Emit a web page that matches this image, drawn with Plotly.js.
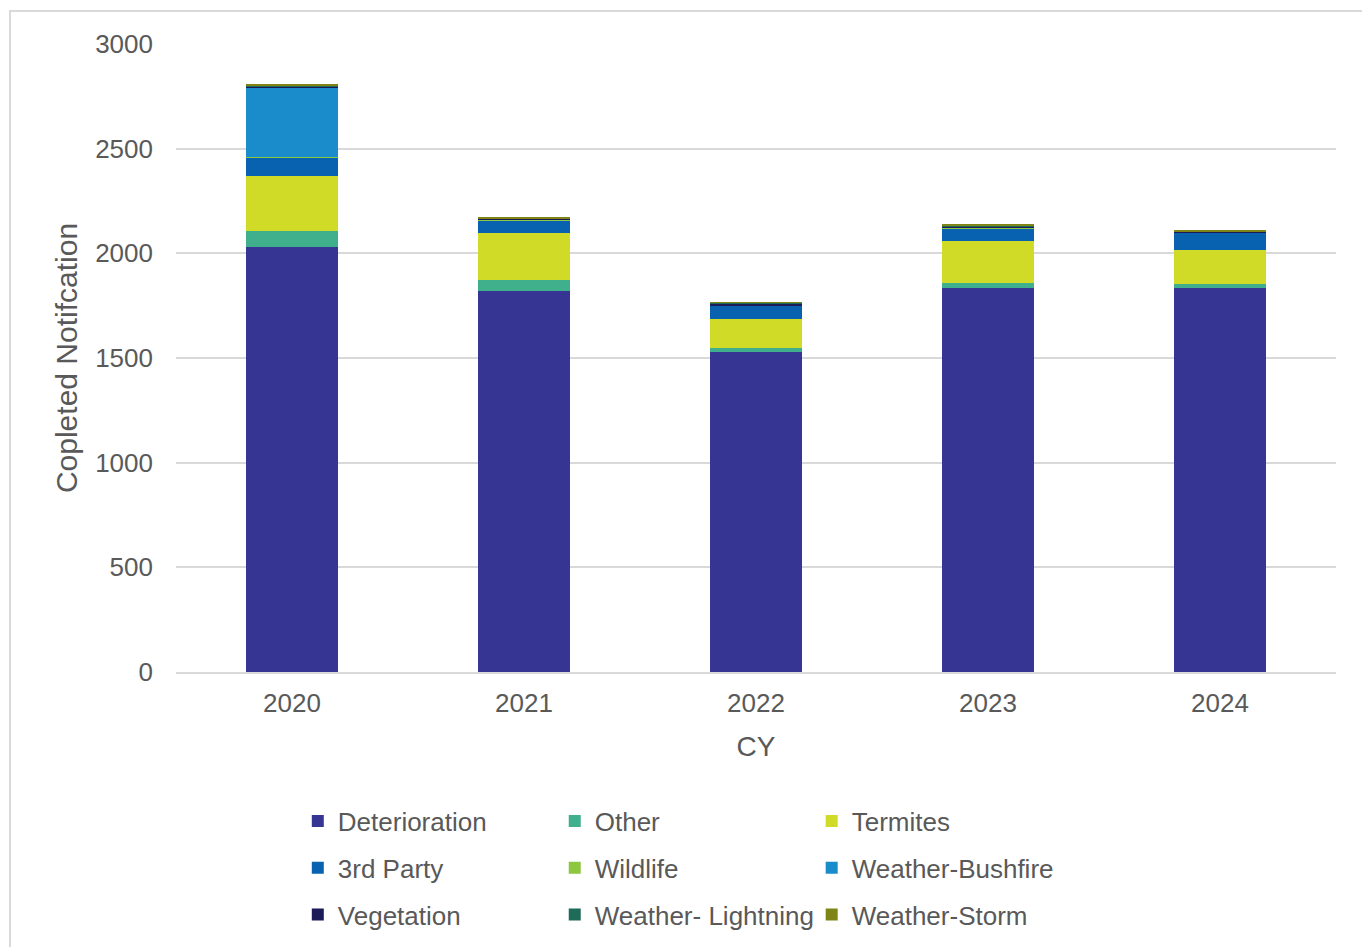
<!DOCTYPE html>
<html>
<head>
<meta charset="utf-8">
<script src="https://cdn.plot.ly/plotly-3.0.1.min.js"></script>
<style>
  html, body { margin: 0; padding: 0; background: #ffffff; }
  #wrap { position: relative; width: 1362px; height: 947px; overflow: hidden; }
  #chart { position: absolute; left: 0; top: 0; width: 1362px; height: 947px; }
  #frame { position: absolute; left: 9px; top: 10px; width: 1400px; height: 1000px;
           border-left: 2px solid #d9d9d9; border-top: 2px solid #d9d9d9; pointer-events: none; }
</style>
</head>
<body>
<div id="wrap">
  <div id="chart"></div>
  <div id="frame"></div>
</div>
<script>
const years = ['2020', '2021', '2022', '2023', '2024'];

const deterioration = [2030, 1820, 1530, 1833, 1833];
const other         = [77, 53, 19, 27, 20];
const termites      = [262, 224, 136, 197, 163];
const thirdParty    = [88, 62, 65, 61, 83];
const wildlife      = [2, 3, 0, 4, 1];
const bushfire      = [334, 0, 0, 0, 0];
const vegetation    = [2, 2, 11, 5, 2];
const lightning     = [2, 1, 4, 4, 1];
const storm         = [10, 8, 1, 8, 4];

const seriesNames  = ['Deterioration', 'Other', 'Termites', '3rd Party', 'Wildlife',
                      'Weather-Bushfire', 'Vegetation', 'Weather- Lightning', 'Weather-Storm'];
const seriesValues = [deterioration, other, termites, thirdParty, wildlife,
                      bushfire, vegetation, lightning, storm];
const seriesColors = ['#373593', '#3faf8c', '#cfdb26', '#0862b0', '#8dc63f',
                      '#1a8ccb', '#1b1b57', '#1f6b57', '#7f8417'];
const legendIds    = ['legend', 'legend2', 'legend3'];

const traces = seriesNames.map((name, i) => ({
  type: 'bar',
  name: name,
  x: years,
  y: seriesValues[i],
  marker: { color: seriesColors[i], line: { width: 0 } },
  legend: legendIds[i % 3],
  legendgroup: 'g' + i,
  hoverinfo: 'x+y+name'
}));

const FONT = 'Liberation Sans, Arial, sans-serif';
const GREY = '#595959';

function legendAt(x) {
  return {
    x: x, y: -0.2, xanchor: 'left', yanchor: 'top',
    orientation: 'v',
    traceorder: 'grouped',
    tracegroupgap: 10,
    font: { family: FONT, size: 26, color: GREY },
    bgcolor: 'rgba(0,0,0,0)',
    itemwidth: 30
  };
}

const layout = {
  width: 1362, height: 947,
  margin: { l: 176, r: 26, t: 44, b: 275, autoexpand: false },
  paper_bgcolor: '#ffffff',
  plot_bgcolor: '#ffffff',
  barmode: 'stack',
  bargap: 0.6,
  font: { family: FONT, size: 26, color: GREY },
  xaxis: {
    type: 'category',
    automargin: false,
    showgrid: false,
    showline: true, linecolor: '#d9d9d9', linewidth: 2,
    ticks: '',
    tickfont: { family: FONT, size: 26, color: GREY },
    ticklabelstandoff: 7,
    title: { text: 'CY', font: { family: FONT, size: 28, color: GREY }, standoff: 19 }
  },
  yaxis: {
    range: [0, 3000],
    dtick: 500,
    automargin: false,
    showgrid: true, gridcolor: '#d9d9d9', gridwidth: 2,
    zeroline: false,
    showline: false,
    ticks: '',
    tickfont: { family: FONT, size: 26, color: GREY },
    ticklabelstandoff: 22,
    title: { text: 'Copleted Notifcation', font: { family: FONT, size: 30, color: GREY }, standoff: 8 }
  },
  legend: legendAt(0.105),
  legend2: legendAt(0.3265),
  legend3: legendAt(0.548),
  showlegend: true
};

Plotly.newPlot('chart', traces, layout, { displayModeBar: false, responsive: false });
</script>
</body>
</html>
